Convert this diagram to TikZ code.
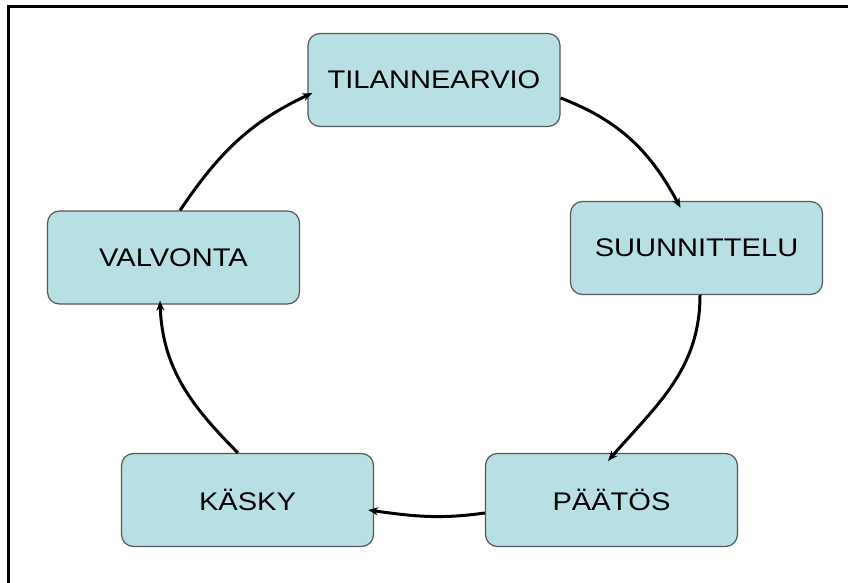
\documentclass[tikz,border=0pt]{standalone}
\usepackage{fontspec}
\usepackage{xcolor}
\usepackage{tikz}
\usetikzlibrary{arrows.meta}
\newfontfamily\boxfont[FakeStretch=1.14]{Liberation Sans}
\definecolor{boxteal}{RGB}{184,223,227}
\definecolor{boxedge}{RGB}{85,88,90}

\begin{document}
\begin{tikzpicture}[x=1pt,y=1pt,
  phase/.style={draw=boxedge,line width=1.2pt,fill=boxteal,rounded corners=12pt,
    minimum width=252pt,minimum height=93pt,inner sep=0pt,font=\boxfont\fontsize{25.5}{28}\selectfont},
  cycarrow/.style={line width=3pt,-{Stealth[length=10pt,width=8pt]}}]
  \useasboundingbox (0,0) rectangle (848,582);
  \clip (0,0) rectangle (848,582);
  \draw[line width=3pt] (8,-20) rectangle (870,575);
  \node[phase] (tilanne) at (434,502) {TILANNEARVIO};
  \node[phase] (suunnittelu) at (696.5,334) {SUUNNITTELU};
  \node[phase] (paatos) at (611.5,82) {PÄÄTÖS};
  \node[phase] (kasky) at (247.5,82) {KÄSKY};
  \node[phase] (valvonta) at (173.5,324.5) {VALVONTA};
  \draw[cycarrow] ([yshift=-18pt]tilanne.east) to[out=-21,in=118] ([xshift=-16pt,yshift=-7pt]suunnittelu.north);
  \draw[cycarrow] ([xshift=3.5pt]suunnittelu.south) to[out=-90,in=49] ([xshift=-3.5pt,yshift=-8pt]paatos.north);
  \draw[cycarrow] ([yshift=-13pt]paatos.west) to[out=-172,in=-8] ([xshift=-6pt,yshift=-10pt]kasky.east);
  \draw[cycarrow] ([xshift=-9.5pt]kasky.north) to[out=135,in=-88] ([xshift=-13.5pt,yshift=4pt]valvonta.south);
  \draw[cycarrow] ([xshift=6.5pt]valvonta.north) to[out=56,in=205] ([xshift=5pt,yshift=-13pt]tilanne.west);
\end{tikzpicture}
\end{document}
